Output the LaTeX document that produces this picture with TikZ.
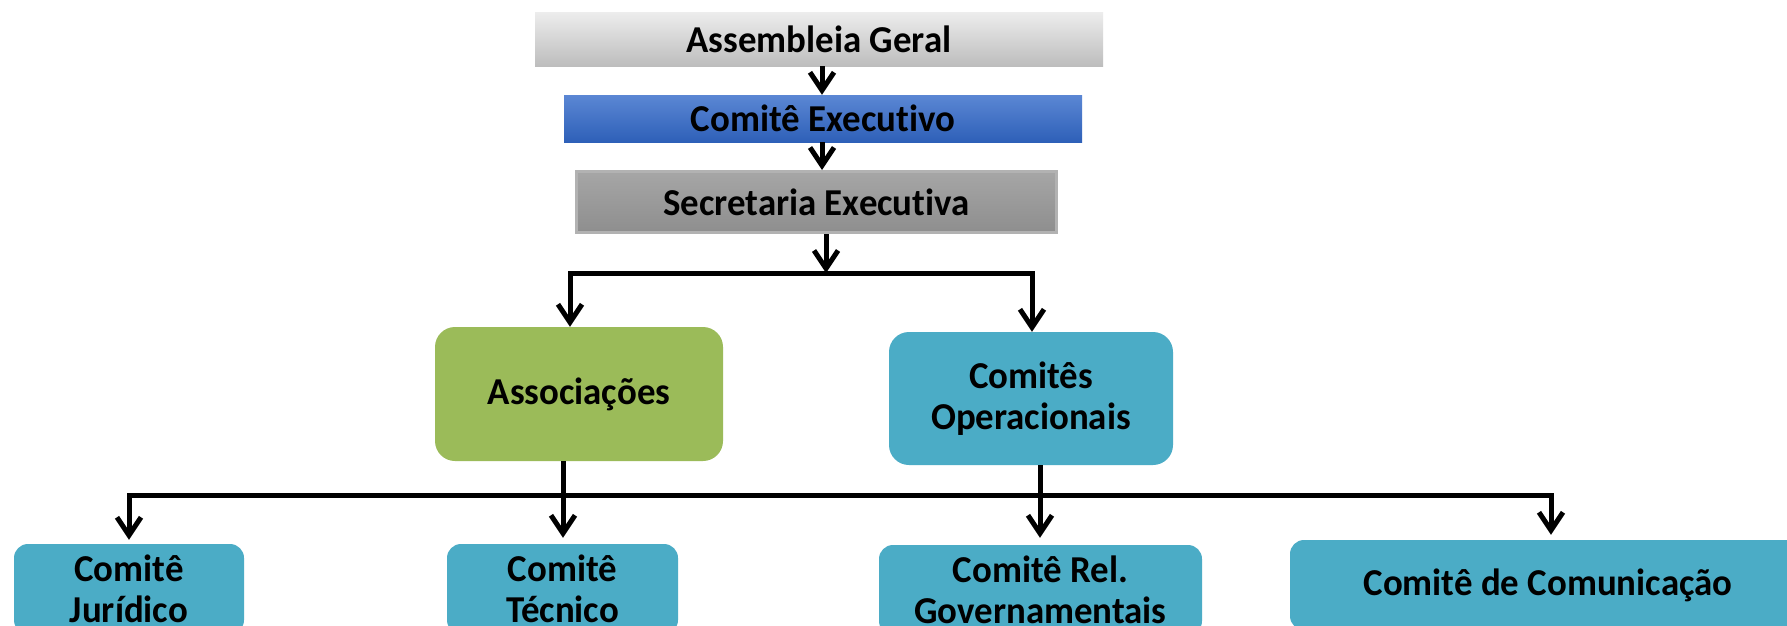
\documentclass[tikz,border=0pt]{standalone}
\usepackage{fontspec}
\setmainfont{Carlito}[Ligatures=NoCommon,FakeStretch=0.97]
\usetikzlibrary{arrows.meta,calc}
\definecolor{agtop}{HTML}{EDEDED}
\definecolor{agbot}{HTML}{BDBDBD}
\definecolor{cetop}{HTML}{5B87D4}
\definecolor{cebot}{HTML}{2E60B8}
\definecolor{setop}{HTML}{A6A6A6}
\definecolor{sebot}{HTML}{8E8E8E}
\definecolor{seborder}{HTML}{B2B2B2}
\definecolor{assocgreen}{HTML}{9BBB59}
\definecolor{comteal}{HTML}{4BACC6}
\begin{document}
\begin{tikzpicture}[x=1pt,y=-1pt,
  lbl/.style={font=\fontsize{38}{41}\selectfont\bfseries, align=center, inner sep=0pt, text=black},
  flatbox/.style={lbl, rectangle, draw=none},
  roundbox/.style={lbl, rectangle, rounded corners=20pt, fill=#1},
  smallbox/.style={lbl, rectangle, rounded corners=14pt, fill=comteal},
  conn/.style={line width=5pt, draw=black, line cap=rect},
  arr/.style={line width=5pt, draw=black, -{Straight Barb[length=18pt,width=24pt]}},
]
\clip (0,0) rectangle (1787,625);
\fill[white] (0,0) rectangle (1787,625);

% top chain
\node[flatbox, minimum width=568pt, minimum height=54pt, top color=agtop, bottom color=agbot] (ag) at (819,39) {Assembleia Geral};
\node[flatbox, minimum width=518pt, minimum height=47pt, top color=cetop, bottom color=cebot] (ce) at (823,118.5) {Comitê Executivo};
\node[flatbox, minimum width=480pt, minimum height=61pt, top color=setop, bottom color=sebot, draw=seborder, line width=3pt] (se) at (816.5,202) {Secretaria Executiva};

% middle level
\node[roundbox=assocgreen, minimum width=288pt, minimum height=134pt] (as) at (579,394) {Associações};
\node[roundbox=comteal, minimum width=284pt, minimum height=133pt] (co) at (1031,398.5) {Comitês\\Operacionais};

% bottom level
\node[smallbox, minimum width=230pt, minimum height=90pt] (ju) at (129,589) {Comitê\\Jurídico};
\node[smallbox, minimum width=231pt, minimum height=90pt] (te) at (562.5,589) {Comitê\\Técnico};
\node[smallbox, minimum width=323pt, minimum height=90pt] (rg) at (1040.5,590) {Comitê Rel.\\Governamentais};
\node[smallbox, minimum width=516pt, minimum height=90pt] (cm) at (1548,585) {Comitê de Comunicação};

% connectors top
\coordinate (s1) at (822,0);
\draw[arr] (s1 |- ag.south) -- (s1 |- ce.north);
\draw[arr] (s1 |- ce.south) -- (s1 |- se.north);

\coordinate (b1) at (826,273);
\coordinate (b1l) at (570,273);
\coordinate (b1r) at (1032,273);
\draw[conn] (b1l) -- (b1r);
\draw[arr] (b1 |- se.south) -- (b1);
\draw[arr] (b1l) -- (b1l |- as.north);
\draw[arr] (b1r) -- (b1r |- co.north);

% connectors bottom
\coordinate (b2l) at (129,495);
\coordinate (b2r) at (1551,495);
\coordinate (v1) at (563,0);
\coordinate (v2) at (1040,0);
\draw[conn] (b2l) -- (b2r);
\draw[arr, shorten >=6pt] (v1 |- as.south) -- (v1 |- te.north);
\draw[arr, shorten >=7pt] (v2 |- co.south) -- (v2 |- rg.north);
\draw[arr, shorten >=4pt] (b2l) -- (b2l |- ju.north);
\draw[arr, shorten >=5pt] (b2r) -- (b2r |- cm.north);
\end{tikzpicture}
\end{document}
